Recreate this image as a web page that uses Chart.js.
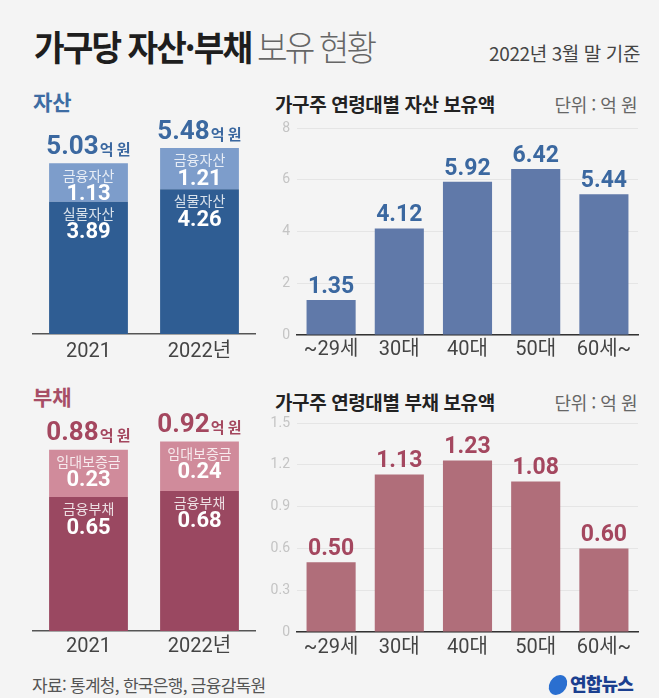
<!DOCTYPE html>
<html lang="ko">
<head>
<meta charset="utf-8">
<script src="https://cdn.jsdelivr.net/npm/chart.js@4"></script>
<style>
    body { margin: 0; background: #f4f4f4; font-family: "Noto Sans CJK KR", sans-serif; }
    #page { position: relative; width: 659px; height: 698px; overflow: hidden; background: #f4f4f4; }
    .abs { position: absolute; white-space: nowrap; }
    canvas { position: absolute; }
    .title { left: 34px; top: 20px; font-size: 35px; letter-spacing: -2px; color: #1e1e1e; font-weight: 700; transform: scaleX(0.95); transform-origin: left; }
    .title span { font-weight: 300; color: #666; margin-left: 6px; letter-spacing: -3px; }
    .date { right: 19px; top: 39px; font-size: 19px; color: #444; letter-spacing: -0.4px; }
    .head { left: 33px; font-size: 21px; font-weight: 700; }
    .ctitle { left: 275px; font-size: 19px; font-weight: 700; color: #222; letter-spacing: -0.4px; }
    .unit { right: 22px; font-size: 18px; color: #666; letter-spacing: -0.5px; }
    .src { left: 32px; top: 672px; font-size: 17px; color: #555; letter-spacing: -0.7px; }
    .logo { left: 549px; top: 670px; font-size: 18px; font-weight: 900; color: #1b3f8f; letter-spacing: -0.8px; }
    .logo i { display: inline-block; width: 18px; height: 20px; border-radius: 50%; background: #2a6fd0; vertical-align: -4px; margin-right: 3px; transform: skewX(-12deg); }
</style>
</head>
<body>
<div id="page">
    <div class="abs title">가구당 자산·부채<span>보유 현황</span></div>
    <div class="abs date">2022년 3월 말 기준</div>

    <div class="abs head" style="top:86px;color:#3d6ca3">자산</div>
    <div class="abs ctitle" style="top:90px">가구주 연령대별 자산 보유액</div>
    <div class="abs unit" style="top:91px">단위 : 억 원</div>

    <div class="abs head" style="top:381px;color:#a74e66">부채</div>
    <div class="abs ctitle" style="top:388px">가구주 연령대별 부채 보유액</div>
    <div class="abs unit" style="top:389px">단위 : 억 원</div>

    <canvas id="assetStack" width="260" height="290" style="left:0;top:90px"></canvas>
    <canvas id="assetAge" width="399" height="290" style="left:260px;top:90px"></canvas>
    <canvas id="debtStack" width="260" height="290" style="left:0;top:380px"></canvas>
    <canvas id="debtAge" width="399" height="290" style="left:260px;top:380px"></canvas>

    <div class="abs src">자료: 통계청, 한국은행, 금융감독원</div>
    <div class="abs logo"><i></i>연합뉴스</div>
</div>
<script>
// Data
const years = ['2021', '2022년'];
const realAssets = [3.89, 4.26];
const finAssets = [1.13, 1.21];
const assetTotals = [5.03, 5.48];
const finDebt = [0.65, 0.68];
const depositDebt = [0.23, 0.24];
const debtTotals = [0.88, 0.92];
const ageGroups = ['~29세', '30대', '40대', '50대', '60세~'];
const assetByAge = [1.35, 4.12, 5.92, 6.42, 5.44];
const debtByAge = [0.50, 1.13, 1.23, 1.08, 0.60];

const KR = '"Noto Sans CJK KR"';
const NUM = 'Roboto, "Noto Sans CJK KR"';

// Labels inside stacked bars + total above
function stackLabels(names, totals, color) {
    return {
        id: 'stackLabels',
        afterDatasetsDraw(chart) {
            const ctx = chart.ctx;
            ctx.save();
            ctx.textAlign = 'center';
            ctx.textBaseline = 'middle';
            chart.data.datasets.forEach((ds, i) => {
                chart.getDatasetMeta(i).data.forEach((bar, j) => {
                    ctx.fillStyle = 'rgba(255,255,255,0.82)';
                    ctx.font = '14px ' + KR;
                    ctx.fillText(names[i], bar.x, bar.y + 12);
                    ctx.fillStyle = '#fff';
                    ctx.font = 'bold 22px ' + NUM;
                    ctx.fillText(ds.data[j].toFixed(2), bar.x, bar.y + 31);
                });
            });
            const last = chart.getDatasetMeta(chart.data.datasets.length - 1).data;
            last.forEach((bar, j) => {
                const num = totals[j].toFixed(2);
                ctx.font = 'bold 26px ' + NUM;
                const w1 = ctx.measureText(num).width;
                ctx.font = 'bold 15px ' + KR;
                const w2 = ctx.measureText('억 원').width;
                const x = bar.x - (w1 + 1 + w2) / 2;
                ctx.textAlign = 'left';
                ctx.fillStyle = color;
                ctx.font = 'bold 26px ' + NUM;
                ctx.fillText(num, x, bar.y - 16);
                ctx.font = 'bold 15px ' + KR;
                ctx.fillText('억 원', x + w1 + 1, bar.y - 14);
            });
            ctx.restore();
        }
    };
}

// Value above each bar
function topLabels(color) {
    return {
        id: 'topLabels',
        afterDatasetsDraw(chart) {
            const ctx = chart.ctx;
            ctx.save();
            ctx.textAlign = 'center';
            ctx.textBaseline = 'middle';
            ctx.fillStyle = color;
            ctx.font = 'bold 23px ' + NUM;
            const ds = chart.data.datasets[0];
            chart.getDatasetMeta(0).data.forEach((bar, j) => {
                ctx.fillText(ds.data[j].toFixed(2), bar.x, bar.y - 13);
            });
            ctx.restore();
        }
    };
}

function stackChart(id, data1, data2, names, totals, colors, max, padTop, axisH, tickPad, labelColor) {
    return new Chart(document.getElementById(id), {
        type: 'bar',
        data: {
            labels: years,
            datasets: [
                { data: data1, backgroundColor: colors[0], barPercentage: 0.71, categoryPercentage: 1 },
                { data: data2, backgroundColor: colors[1], barPercentage: 0.71, categoryPercentage: 1 }
            ]
        },
        options: {
            responsive: false,
            animation: false,
            layout: { padding: { left: 33, right: 5, top: padTop, bottom: 0 } },
            plugins: { legend: { display: false }, tooltip: { enabled: false } },
            scales: {
                x: {
                    stacked: true,
                    grid: { display: false, drawTicks: false },
                    border: { display: true, color: '#555', width: 1.5 },
                    ticks: { padding: tickPad, color: '#444', font: { size: 20, family: NUM } },
                    afterFit: s => { s.height = axisH; }
                },
                y: { stacked: true, display: false, min: 0, max: max }
            }
        },
        plugins: [stackLabels(names, totals, labelColor)]
    });
}

function ageChart(id, values, color, max, step, padTop, axisH, tickPad, labelColor) {
    return new Chart(document.getElementById(id), {
        type: 'bar',
        data: {
            labels: ageGroups,
            datasets: [{ data: values, backgroundColor: color, barPercentage: 0.72, categoryPercentage: 1 }]
        },
        options: {
            responsive: false,
            animation: false,
            layout: { padding: { left: 0, right: 21, top: padTop, bottom: 0 } },
            plugins: { legend: { display: false }, tooltip: { enabled: false } },
            scales: {
                x: {
                    grid: { display: false, drawTicks: false },
                    border: { display: true, color: '#333', width: 1.5 },
                    ticks: { padding: tickPad, color: '#444', font: { size: 20, family: NUM } },
                    afterFit: s => { s.height = axisH; }
                },
                y: {
                    min: 0, max: max,
                    grid: { color: '#e5e5e5', drawTicks: false },
                    border: { display: false },
                    ticks: {
                        stepSize: step, padding: 7, color: '#c4c4c4',
                        font: { size: 14, family: NUM },
                        callback: v => v === 0 ? '0' : (step < 1 ? v.toFixed(1) : String(v))
                    },
                    afterFit: s => { s.width = 37; }
                }
            }
        },
        plugins: [topLabels(labelColor)]
    });
}

stackChart('assetStack', realAssets, finAssets, ['실물자산', '금융자산'], assetTotals,
    ['#2f5d93', '#7d9dcb'], 6, 40, 46, 6, '#3b68a0');
ageChart('assetAge', assetByAge, '#6079a9', 8, 2, 38, 45, 3, '#3b68a0');
stackChart('debtStack', finDebt, depositDebt, ['금융부채', '임대보증금'], debtTotals,
    ['#9a4861', '#d08b9b'], 1.0, 45, 39, 4, '#a4475f');
ageChart('debtAge', debtByAge, '#b06e7a', 1.5, 0.3, 43, 38, 4, '#a4475f');
</script>
</body>
</html>
